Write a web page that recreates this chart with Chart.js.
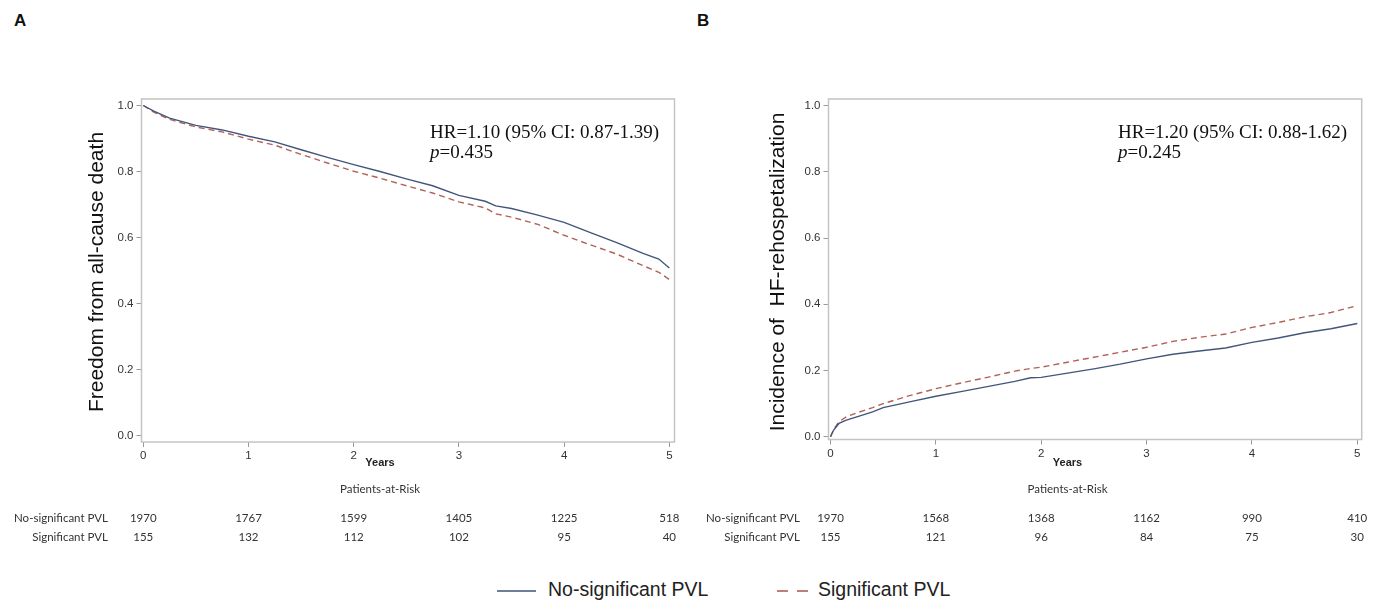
<!DOCTYPE html>
<html>
<head>
<meta charset="utf-8">
<script src="https://cdn.jsdelivr.net/npm/chart.js@4.4.1/dist/chart.umd.min.js"></script>
<style>
  body { margin: 0; background: #fff; width: 1386px; height: 606px; position: relative; overflow: hidden; }
  canvas { position: absolute; top: 0; }
  .letter { position: absolute; top: 11px; font: bold 17px "Liberation Sans", Arial, sans-serif; color: #111; }
  .legend { position: absolute; top: 578px; font: 19.5px "Liberation Sans", Arial, sans-serif; color: #222; }
  .seg { position: absolute; height: 0; }
</style>
</head>
<body>
<div class="letter" style="left:14px">A</div>
<div class="letter" style="left:697px">B</div>
<canvas id="panelA" width="690" height="550" style="left:0"></canvas>
<canvas id="panelB" width="696" height="550" style="left:690px"></canvas>

<div class="seg" style="left:497px;top:590px;width:39px;border-top:2px solid #6f7d9c"></div>
<div class="legend" style="left:548px">No-significant PVL</div>
<div class="seg" style="left:777px;top:590px;width:11px;border-top:2px solid #b9817a"></div>
<div class="seg" style="left:797px;top:590px;width:11px;border-top:2px solid #b9817a"></div>
<div class="legend" style="left:818px">Significant PVL</div>

<script>
// ===== Data =====
const xTicks = [0, 1, 2, 3, 4, 5];
const yTicks = [0, 0.2, 0.4, 0.6, 0.8, 1.0];

// A: freedom from all-cause death
const yearsA = [0, 0.1, 0.25, 0.5, 0.75, 1, 1.25, 1.5, 1.75, 2, 2.25, 2.5, 2.75, 3, 3.25, 3.35, 3.5, 3.75, 4, 4.25, 4.5, 4.75, 4.9, 5];
const noSigA = [1.0, 0.983, 0.962, 0.94, 0.926, 0.907, 0.89, 0.866, 0.843, 0.821, 0.80, 0.778, 0.757, 0.728, 0.71, 0.696, 0.688, 0.668, 0.646, 0.615, 0.585, 0.552, 0.535, 0.508];
const sigA   = [1.0, 0.98, 0.958, 0.935, 0.92, 0.898, 0.88, 0.852, 0.826, 0.801, 0.78, 0.757, 0.735, 0.708, 0.69, 0.672, 0.662, 0.64, 0.607, 0.578, 0.55, 0.515, 0.495, 0.473];

// B: incidence of HF-rehospitalization
const yearsB = [0, 0.03, 0.08, 0.15, 0.25, 0.4, 0.5, 0.75, 1, 1.25, 1.5, 1.75, 1.9, 2, 2.25, 2.5, 2.75, 3, 3.25, 3.5, 3.75, 4, 4.25, 4.5, 4.75, 5];
const noSigB = [0, 0.02, 0.04, 0.05, 0.06, 0.075, 0.088, 0.105, 0.122, 0.137, 0.152, 0.167, 0.178, 0.179, 0.192, 0.205, 0.219, 0.235, 0.249, 0.259, 0.268, 0.285, 0.298, 0.314, 0.326, 0.342];
const sigB   = [0, 0.022, 0.045, 0.06, 0.072, 0.088, 0.1, 0.124, 0.145, 0.163, 0.18, 0.198, 0.206, 0.21, 0.225, 0.24, 0.255, 0.27, 0.288, 0.3, 0.31, 0.33, 0.345, 0.362, 0.375, 0.396];

// patients at risk
const riskNoSigA = [1970, 1767, 1599, 1405, 1225, 518];
const riskSigA   = [155, 132, 112, 102, 95, 40];
const riskNoSigB = [1970, 1568, 1368, 1162, 990, 410];
const riskSigB   = [155, 121, 96, 84, 75, 30];

const COL_NOSIG = '#44557c';
const COL_SIG = '#b06258';
const FONT = '"Liberation Sans", Arial, sans-serif';
const FONT_TABLE = 'Lato, "Open Sans", sans-serif';
const SERIF = '"Liberation Serif", "Times New Roman", serif';

// ===== Overlay (frame, titles, HR text, risk table) =====
function overlayPlugin(o) {
  return {
    id: 'overlay',
    afterDraw(chart) {
      const { ctx, chartArea: a, scales: { x } } = chart;
      ctx.save();

      ctx.strokeStyle = '#c4c4c4';
      ctx.lineWidth = 1.5;
      ctx.strokeRect(a.left, a.top, a.right - a.left, a.bottom - a.top);

      // y title
      ctx.save();
      ctx.translate(o.yTitleX, 272);
      ctx.rotate(-Math.PI / 2);
      ctx.fillStyle = '#111';
      ctx.font = '21px ' + FONT;
      ctx.textAlign = 'center';
      ctx.textBaseline = 'middle';
      ctx.fillText(o.yTitle, 0, 0);
      ctx.restore();

      // Years
      ctx.fillStyle = '#222';
      ctx.font = 'bold 11px ' + FONT;
      ctx.textAlign = 'center';
      ctx.textBaseline = 'middle';
      ctx.fillText('Years', x.getPixelForValue(2.25), 463);

      // HR annotation
      ctx.textAlign = 'left';
      ctx.fillStyle = '#111';
      ctx.font = '19px ' + SERIF;
      ctx.fillText(o.hr, o.hrX, 133);
      ctx.font = 'italic 19px ' + SERIF;
      ctx.fillText('p', o.hrX, 153);
      const pw = ctx.measureText('p').width;
      ctx.font = '19px ' + SERIF;
      ctx.fillText(o.p, o.hrX + pw, 153);

      // risk table
      ctx.fillStyle = '#333';
      ctx.font = '11.5px ' + FONT_TABLE;
      ctx.textAlign = 'center';
      ctx.fillText('Patients-at-Risk', x.getPixelForValue(2.25), 489);
      ctx.textAlign = 'right';
      ctx.fillText('No-significant PVL', o.labelRight, 518);
      ctx.fillText('Significant PVL', o.labelRight, 537);
      ctx.textAlign = 'center';
      xTicks.forEach((t, i) => {
        const px = x.getPixelForValue(t);
        ctx.fillText(String(o.riskNoSig[i]), px, 518);
        ctx.fillText(String(o.riskSig[i]), px, 537);
      });

      ctx.restore();
    }
  };
}

function makePanel(id, o) {
  return new Chart(document.getElementById(id), {
    type: 'line',
    data: {
      datasets: [
        {
          label: 'No-significant PVL',
          data: o.years.map((t, i) => ({ x: t, y: o.noSig[i] })),
          borderColor: COL_NOSIG,
          borderWidth: 1.4,
          pointRadius: 0,
          tension: 0
        },
        {
          label: 'Significant PVL',
          data: o.years.map((t, i) => ({ x: t, y: o.sig[i] })),
          borderColor: COL_SIG,
          borderWidth: 1.4,
          borderDash: [6, 4],
          pointRadius: 0,
          tension: 0
        }
      ]
    },
    options: {
      responsive: false,
      animation: false,
      layout: { padding: { left: 0, top: 99, right: o.padRight, bottom: 0 } },
      plugins: { legend: { display: false }, tooltip: { enabled: false } },
      scales: {
        x: {
          type: 'linear',
          min: o.xMin,
          max: o.xMax,
          afterBuildTicks: s => { s.ticks = xTicks.map(v => ({ value: v })); },
          afterFit: s => { s.height = o.xAxisH; },
          grid: { drawOnChartArea: false, drawTicks: true, tickLength: 5, color: '#999' },
          border: { display: false },
          ticks: { color: '#333', padding: 2, maxRotation: 0, font: { family: FONT, size: 11.5 }, callback: v => String(v) }
        },
        y: {
          min: o.yMin,
          max: o.yMax,
          afterBuildTicks: s => { s.ticks = yTicks.map(v => ({ value: v })); },
          afterFit: s => { s.width = o.yAxisW; },
          grid: { drawOnChartArea: false, drawTicks: true, tickLength: 5, color: '#999' },
          border: { display: false },
          ticks: { color: '#333', padding: 3, font: { family: FONT, size: 11.5 }, callback: v => v.toFixed(1) }
        }
      }
    },
    plugins: [overlayPlugin(o)]
  });
}

makePanel('panelA', {
  years: yearsA, noSig: noSigA, sig: sigA,
  riskNoSig: riskNoSigA, riskSig: riskSigA,
  yTitle: 'Freedom from all-cause death', yTitleX: 97,
  hr: 'HR=1.10 (95% CI: 0.87-1.39)', p: '=0.435', hrX: 430,
  labelRight: 108,
  padRight: 15.5, yAxisW: 141.5, xAxisH: 108,
  xMin: -0.017, xMax: 5.049, yMin: -0.019, yMax: 1.0197
});

makePanel('panelB', {
  years: yearsB, noSig: noSigB, sig: sigB,
  riskNoSig: riskNoSigB, riskSig: riskSigB,
  yTitle: 'Incidence of  HF-rehospetalization', yTitleX: 88,
  hr: 'HR=1.20 (95% CI: 0.88-1.62)', p: '=0.245', hrX: 428,
  labelRight: 110,
  padRight: 24.3, yAxisW: 138.5, xAxisH: 110.5,
  xMin: -0.019, xMax: 5.042, yMin: -0.0085, yMax: 1.02
});
</script>
</body>
</html>
